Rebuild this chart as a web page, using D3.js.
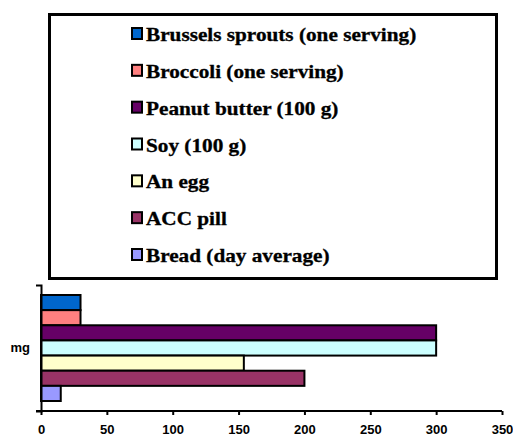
<!DOCTYPE html>
<html>
<head>
<meta charset="utf-8">
<script src="https://cdn.jsdelivr.net/npm/d3@7"></script>
<style>
  body { margin: 0; background: #fff; }
  .tick text { font-family: Arial, "Liberation Sans", sans-serif; font-weight: bold; font-size: 13px; fill: #000; }
  .legend text { font-family: "Times New Roman", "Liberation Serif", serif; font-weight: bold; font-size: 18px; fill: #000; }
</style>
</head>
<body>
<div id="chart-area"></div>
<script>
// data
var categories = ["mg"];
var series = ["Brussels sprouts (one serving)", "Broccoli (one serving)", "Peanut butter (100 g)",
              "Soy (100 g)", "An egg", "ACC pill", "Bread (day average)"];
var values = [30, 30, 300, 300, 154, 200, 15];
var colors = ["#0066CC", "#FF8080", "#660066", "#CCFFFF", "#FFFFCC", "#993366", "#9999FF"];
var xTicks = [0, 50, 100, 150, 200, 250, 300, 350];

var svg = d3.select("#chart-area").append("svg")
    .attr("width", 513)
    .attr("height", 438);

// legend box
var legend = svg.append("g").attr("class", "legend");
legend.append("rect")
    .attr("x", 51).attr("y", 16)
    .attr("width", 447).attr("height", 264)
    .attr("fill", "#999");
legend.append("rect")
    .attr("x", 49.5).attr("y", 14.5)
    .attr("width", 447).attr("height", 264)
    .attr("fill", "#fff")
    .attr("stroke", "#000")
    .attr("stroke-width", 3);

var legendY = d3.scaleLinear().domain([0, series.length - 1]).range([35, 256]);

var item = legend.selectAll("g.item")
    .data(series)
    .enter().append("g")
    .attr("class", "item")
    .attr("transform", function (d, i) { return "translate(0," + legendY(i) + ")"; });

item.append("rect")
    .attr("x", 132).attr("y", -7)
    .attr("width", 10).attr("height", 11)
    .attr("fill", function (d, i) { return colors[i]; })
    .attr("stroke", "#000")
    .attr("stroke-width", 2);

// the text in the picture is stretched sideways
item.append("text")
    .attr("transform", "translate(146,6) scale(1.18,1)")
    .attr("stroke", "#000")
    .attr("stroke-width", 0.3)
    .text(function (d) { return d; });

// plot
var x = d3.scaleLinear().domain([0, 350]).range([41, 502]);
var y = d3.scaleBand().domain(categories).range([285, 411]);
var ySeries = d3.scaleBand().domain(series)
    .range([y(categories[0]) + 10, y(categories[0]) + y.bandwidth() - 10]);

svg.append("g").selectAll("rect")
    .data(values)
    .enter().append("rect")
    .attr("x", x(0))
    .attr("y", function (d, i) { return ySeries(series[i]); })
    .attr("width", function (d) { return x(d) - x(0); })
    .attr("height", ySeries.bandwidth())
    .attr("fill", function (d, i) { return colors[i]; })
    .attr("stroke", "#000")
    .attr("stroke-width", 2);

// x axis
var xAxis = svg.append("g")
    .attr("transform", "translate(0,411)")
    .call(d3.axisBottom(x).tickValues(xTicks).tickSize(4).tickSizeOuter(0).tickPadding(10));
xAxis.select(".domain").attr("stroke-width", 2).attr("d", "M36,0H" + x(350));
xAxis.selectAll(".tick line").attr("stroke-width", 2);

// y axis (category)
var yAxis = svg.append("g")
    .attr("transform", "translate(41,0)")
    .call(d3.axisLeft(y).tickSize(0).tickPadding(11).tickSizeOuter(5));
yAxis.select(".domain").attr("stroke-width", 2);
</script>
</body>
</html>
